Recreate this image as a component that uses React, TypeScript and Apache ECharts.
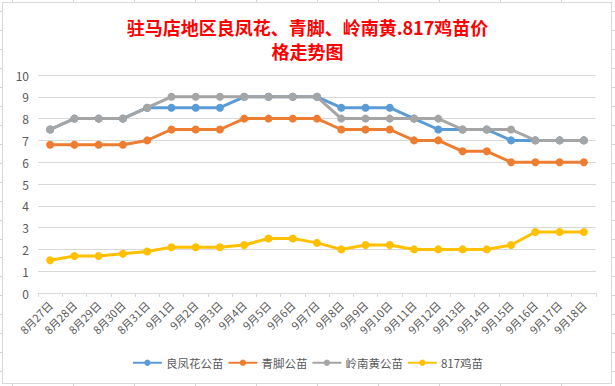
import React, { useEffect, useRef } from "react";
import * as echarts from "echarts";

const categories = [
  "8月27日", "8月28日", "8月29日", "8月30日", "8月31日",
  "9月1日", "9月2日", "9月3日", "9月4日", "9月5日", "9月6日", "9月7日",
  "9月8日", "9月9日", "9月10日", "9月11日", "9月12日", "9月13日",
  "9月14日", "9月15日", "9月16日", "9月17日", "9月18日",
];

const liangfenghua = [7.5, 8, 8, 8, 8.5, 8.5, 8.5, 8.5, 9, 9, 9, 9, 8.5, 8.5, 8.5, 8, 7.5, 7.5, 7.5, 7, 7, 7, 7];
const qingjiao = [6.8, 6.8, 6.8, 6.8, 7, 7.5, 7.5, 7.5, 8, 8, 8, 8, 7.5, 7.5, 7.5, 7, 7, 6.5, 6.5, 6, 6, 6, 6];
const lingnanhuang = [7.5, 8, 8, 8, 8.5, 9, 9, 9, 9, 9, 9, 9, 8, 8, 8, 8, 8, 7.5, 7.5, 7.5, 7, 7, 7];
const ji817 = [1.5, 1.7, 1.7, 1.8, 1.9, 2.1, 2.1, 2.1, 2.2, 2.5, 2.5, 2.3, 2.0, 2.2, 2.2, 2.0, 2.0, 2.0, 2.0, 2.2, 2.8, 2.8, 2.8];

const seriesNames = ["良凤花公苗", "青脚公苗", "岭南黄公苗", "817鸡苗"];
const seriesColors = ["#5B9BD5", "#ED7D31", "#A5A5A5", "#FFC000"];
const titleText = "驻马店地区良凤花、青脚、岭南黄.817鸡苗价\n格走势图";

const FONT = "'Noto Sans CJK SC', 'Noto Sans', sans-serif";

export default function App() {
  const ref = useRef<HTMLDivElement>(null);

  useEffect(() => {
    if (!ref.current) return;
    const chart = echarts.init(ref.current, undefined, { renderer: "svg" });
    const dataSets = [liangfenghua, qingjiao, lingnanhuang, ji817];
    chart.setOption({
      animation: false,
      textStyle: { fontFamily: FONT },
      title: {
        text: titleText,
        left: "center",
        top: 10,
        textStyle: {
          color: "#FF0000",
          fontSize: 18,
          fontWeight: "bold",
          lineHeight: 24,
          fontFamily: FONT,
        },
      },
      legend: {
        top: 357,
        left: "center",
        itemWidth: 29,
        itemHeight: 8,
        itemGap: 4,
        padding: 0,
        textStyle: { fontSize: 11.5, color: "#595959", fontFamily: FONT, padding: [0, 0, 0, -1] },
        data: seriesNames,
      },
      grid: { left: 38, right: 19, top: 75, bottom: 93, containLabel: false },
      xAxis: {
        type: "category",
        data: categories,
        boundaryGap: true,
        axisLine: { lineStyle: { color: "#D9D9D9", width: 1 } },
        axisTick: { show: true, length: 4, lineStyle: { color: "#D9D9D9" } },
        axisLabel: {
          rotate: 45,
          interval: 0,
          fontSize: 11,
          color: "#595959",
          margin: 10,
          fontFamily: FONT,
        },
      },
      yAxis: {
        type: "value",
        min: 0,
        max: 10,
        interval: 1,
        axisLine: { show: false },
        axisTick: { show: false },
        axisLabel: { fontSize: 12, color: "#595959", margin: 9, fontFamily: FONT },
        splitLine: { lineStyle: { color: "#D9D9D9", width: 1 } },
      },
      series: seriesNames.map((name, i) => ({
        name,
        type: "line",
        data: dataSets[i],
        symbol: "circle",
        symbolSize: 8,
        color: seriesColors[i],
        lineStyle: { width: 3, color: seriesColors[i] },
        itemStyle: { color: seriesColors[i] },
      })),
    });
    return () => chart.dispose();
  }, []);

  const backdrop: React.CSSProperties = {
    position: "absolute",
    left: 0,
    top: 0,
    width: 615,
    height: 386,
    background: "#fff",
    backgroundImage:
      "repeating-linear-gradient(to right, transparent 0px, transparent 12px, #D4D4D4 12px, #D4D4D4 13px, transparent 13px, transparent 61px)," +
      "repeating-linear-gradient(to bottom, transparent 0px, transparent 11px, #D4D4D4 11px, #D4D4D4 12px, transparent 12px, transparent 18.96px)",
    overflow: "hidden",
  };

  return (
    <div style={backdrop}>
      <div
        style={{
          position: "absolute",
          left: 2,
          top: 2,
          width: 608,
          height: 380,
          background: "#fff",
          border: "1px solid #D9D9D9",
        }}
      />
      <div
        ref={ref}
        style={{ position: "absolute", left: 0, top: 0, width: 615, height: 386 }}
      />
    </div>
  );
}
